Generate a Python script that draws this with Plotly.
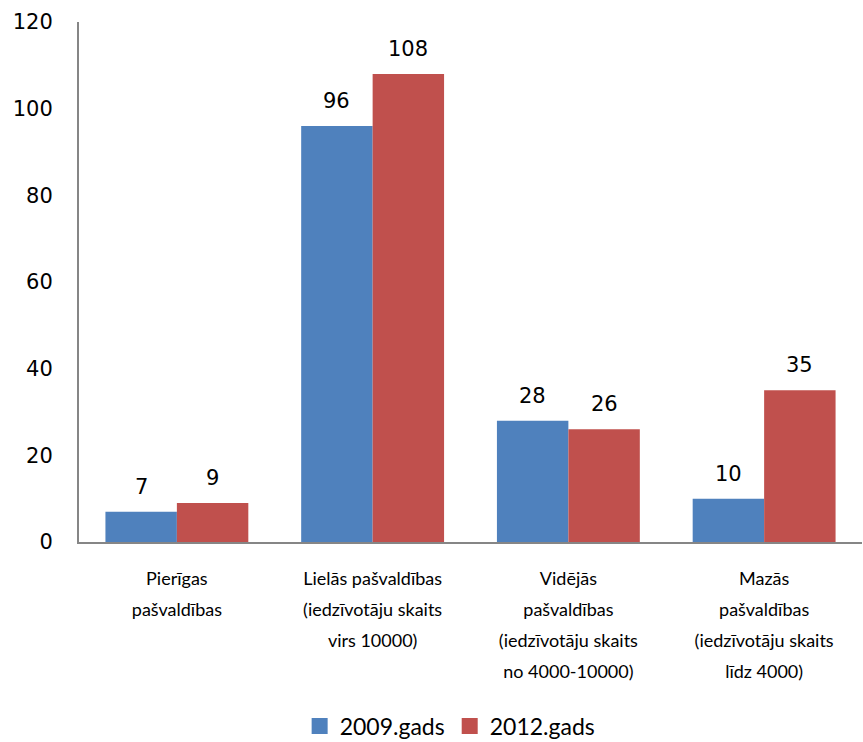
import plotly.graph_objects as go

categories = [
    ["Pierīgas", "pašvaldības"],
    ["Lielās pašvaldības", "(iedzīvotāju skaits", "virs 10000)"],
    ["Vidējās", "pašvaldības", "(iedzīvotāju skaits", "no 4000-10000)"],
    ["Mazās", "pašvaldības", "(iedzīvotāju skaits", "līdz 4000)"],
]
series_names = ["2009.gads", "2012.gads"]
values_2009 = [7, 96, 28, 10]
values_2012 = [9, 108, 26, 35]
y_ticks = [0, 20, 40, 60, 80, 100, 120]

colors = ["#4F81BD", "#C0504D"]
bargap = 0.27
label_font = dict(family="DejaVu Sans", size=21, color="#000000")

tick_text = ["<br>".join('<span style="font-size:18px">%s</span>' % s for s in lines)
             for lines in categories]

fig = go.Figure()
for name, vals, col in zip(series_names, [values_2009, values_2012], colors):
    fig.add_trace(go.Bar(name=name, x=list(range(len(categories))), y=vals,
                         marker=dict(color=col, line=dict(width=0)),
                         showlegend=False))
    fig.add_trace(go.Scatter(name=name, x=[None], y=[None], mode="markers",
                             marker=dict(symbol="square", size=18, color=col),
                             showlegend=True))

half = (1 - bargap) / 4
for j, vals in enumerate([values_2009, values_2012]):
    off = -half if j == 0 else half
    for i, v in enumerate(vals):
        fig.add_annotation(x=i + off, y=v, text=str(v), showarrow=False,
                           yanchor="bottom", yshift=11, font=label_font)

fig.update_layout(
    width=863, height=742,
    margin=dict(l=79, r=1, t=22, b=200, autoexpand=False),
    plot_bgcolor="white", paper_bgcolor="white",
    barmode="group", bargap=bargap, bargroupgap=0,
    showlegend=True,
    legend=dict(orientation="h", x=0.474, xanchor="center", y=-0.354, yanchor="middle",
                font=dict(family="Lato", size=23, color="#000000"),
                itemwidth=30, traceorder="normal", tracegroupgap=0),
    font=dict(family="Lato", size=20, color="#000000"),
)
fig.update_xaxes(tickvals=list(range(len(categories))), ticktext=tick_text,
                 range=[-0.5, len(categories) - 0.5], automargin=False,
                 showline=True, linecolor="#868686", linewidth=2,
                 ticks="", showgrid=False, zeroline=False,
                 tickfont=dict(family="Lato", size=24, color="#000000"),
                 ticklabelstandoff=12)
fig.update_yaxes(range=[0, 120], tickvals=y_ticks, automargin=False,
                 showline=True, linecolor="#868686", linewidth=2,
                 ticks="", showgrid=False, zeroline=False,
                 tickfont=dict(family="DejaVu Sans", size=21, color="#000000"),
                 ticklabelstandoff=20)

fig.write_html("out.html", config={"displayModeBar": False},
               post_script="document.body.style.margin='0';document.body.style.overflow='hidden';")
